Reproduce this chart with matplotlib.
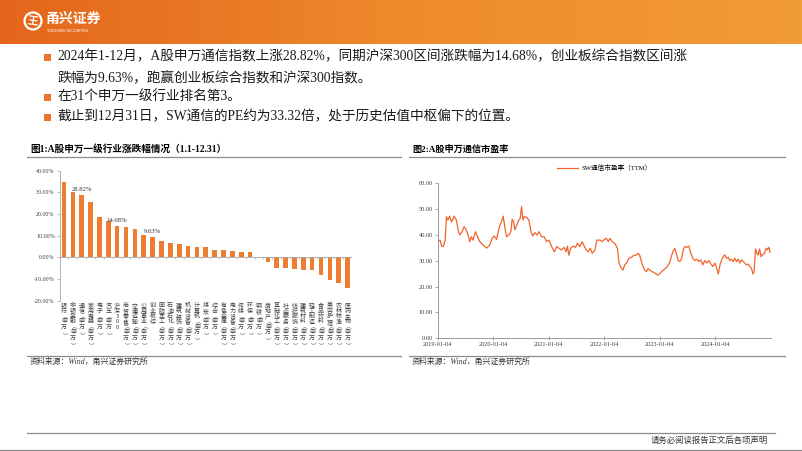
import numpy as np
import matplotlib.pyplot as plt
from matplotlib.colors import LinearSegmentedColormap
from matplotlib.patches import Circle, Rectangle
from matplotlib.ticker import FormatStrFormatter

plt.rcParams['font.family'] = ['Liberation Serif', 'Noto Sans CJK SC']

# ---- data ----
industries = ['银行(申万)', '非银金融(申万)', '通信(申万)', '家用电器(申万)', '电子(申万)',
              '汽车(申万)', '沪深300', '商贸零售(申万)', '交通运输(申万)', '公用事业(申万)',
              '创业板综', '国防军工(申万)', '石油石化(申万)', '建筑装饰(申万)', '机械设备(申万)',
              '计算机(申万)', '煤炭(申万)', '综合(申万)', '有色金属(申万)', '电力设备(申万)',
              '传媒(申万)', '环保(申万)', '钢铁(申万)', '房地产(申万)', '基础化工(申万)',
              '社会服务(申万)', '纺织服饰(申万)', '建筑材料(申万)', '轻工制造(申万)',
              '食品饮料(申万)', '美容护理(申万)', '农林牧渔(申万)', '医药生物(申万)']
changes = [34.7, 30.2, 28.82, 25.6, 18.7, 16.7, 14.68, 13.9, 13.3, 10.5, 9.63,
           7.4, 6.5, 6.0, 5.2, 4.6, 4.6, 3.5, 3.4, 3.1, 2.3, 2.3, 0.3,
           -2.2, -4.9, -4.9, -5.2, -5.9, -6.0, -8.0, -10.3, -11.6, -14.2]
labelled = {2: '28.82%', 6: '14.68%', 10: '9.63%'}

pe_dates = ['2019-01-04', '2019-01-20', '2019-01-30', '2019-02-10', '2019-02-22', '2019-03-03',
            '2019-03-13', '2019-03-24', '2019-04-05', '2019-04-22', '2019-05-07', '2019-05-18',
            '2019-05-29', '2019-06-14', '2019-06-27', '2019-07-08', '2019-07-23', '2019-08-03',
            '2019-08-14', '2019-08-25', '2019-09-10', '2019-09-23', '2019-10-08', '2019-10-30',
            '2019-11-21', '2019-12-13', '2019-12-28',
            '2020-01-11', '2020-01-27', '2020-02-11', '2020-02-28', '2020-03-10', '2020-03-21',
            '2020-04-01', '2020-04-16', '2020-04-30', '2020-05-08', '2020-05-17', '2020-05-26',
            '2020-06-08', '2020-06-21', '2020-06-30', '2020-07-09', '2020-07-18', '2020-07-26',
            '2020-08-11', '2020-08-26', '2020-09-09', '2020-09-20', '2020-10-05', '2020-10-18',
            '2020-11-01', '2020-11-18', '2020-12-05', '2020-12-21',
            '2021-01-06', '2021-01-23', '2021-02-10', '2021-02-26', '2021-03-11', '2021-03-28',
            '2021-04-15', '2021-04-28', '2021-05-07', '2021-05-16', '2021-05-29', '2021-06-14',
            '2021-06-29', '2021-07-12', '2021-07-27', '2021-08-12', '2021-08-25', '2021-09-08',
            '2021-09-21', '2021-10-04', '2021-10-17', '2021-11-04', '2021-11-17', '2021-12-07',
            '2021-12-22',
            '2022-01-05', '2022-01-18', '2022-01-31', '2022-02-11', '2022-02-26', '2022-03-14',
            '2022-04-01', '2022-04-12', '2022-04-27', '2022-05-08', '2022-05-19', '2022-05-30',
            '2022-06-14', '2022-07-02', '2022-07-19', '2022-08-04', '2022-08-15', '2022-08-26',
            '2022-09-06', '2022-09-17', '2022-09-28', '2022-10-09', '2022-10-20', '2022-10-31',
            '2022-11-16', '2022-12-03', '2022-12-21',
            '2023-01-04', '2023-01-17', '2023-02-04', '2023-02-19', '2023-03-02', '2023-03-13',
            '2023-03-24', '2023-04-04', '2023-04-14', '2023-04-25', '2023-05-06', '2023-05-17',
            '2023-05-28', '2023-06-10', '2023-06-19', '2023-07-02', '2023-07-15', '2023-07-28',
            '2023-08-10', '2023-08-23', '2023-09-05', '2023-09-19', '2023-10-02', '2023-10-15',
            '2023-10-28', '2023-11-10', '2023-11-23', '2023-12-07', '2023-12-20',
            '2024-01-04', '2024-01-14', '2024-01-25', '2024-02-05', '2024-02-16', '2024-02-27',
            '2024-03-08', '2024-03-19', '2024-03-30', '2024-04-10', '2024-04-21', '2024-05-02',
            '2024-05-13', '2024-05-24', '2024-06-04', '2024-06-15', '2024-06-26', '2024-07-07',
            '2024-07-18', '2024-07-28', '2024-08-08', '2024-08-19', '2024-08-30', '2024-09-10',
            '2024-09-17', '2024-09-26', '2024-10-08', '2024-10-14', '2024-10-23', '2024-11-01',
            '2024-11-10', '2024-11-23', '2024-12-06', '2024-12-14', '2024-12-23', '2024-12-31']
pe_values = [37.4, 38.0, 35.7, 35.5, 38.0, 47.1, 45.8, 47.3, 45.0, 47.3, 45.8, 42.0, 40.0,
             41.3, 43.2, 42.2, 40.0, 37.4, 39.3, 38.0, 41.3, 39.3, 37.4, 36.1, 34.9, 36.1, 38.7,
             39.6, 38.3, 42.6, 45.1, 47.3, 43.0, 39.3, 40.0, 41.3, 46.1, 45.1, 42.0, 43.9, 45.8,
             46.4, 51.0, 45.8, 47.1, 46.8, 45.8, 41.3, 39.6, 40.9, 40.0, 41.3, 39.3, 39.3, 37.4,
             38.0, 35.5, 33.5, 35.5, 34.9, 34.2, 35.2, 33.5, 35.7, 32.2, 34.9, 35.7, 35.2, 36.8,
             35.5, 37.4, 35.7, 34.2, 33.5, 34.9, 32.9, 34.2, 38.0, 38.0, 37.4,
             38.3, 38.7, 37.4, 38.7, 37.4, 36.8, 34.9, 29.1, 27.1, 26.4, 28.4, 29.0, 30.8, 31.4,
             32.1, 32.3, 32.9, 32.1, 29.7, 27.7, 26.4, 25.8, 27.0, 26.4, 25.8, 25.3, 24.4,
             25.0, 25.8, 26.7, 27.5, 28.4, 29.7, 32.1, 33.9, 34.8, 32.7, 30.1, 29.7, 30.8, 34.6,
             35.5, 35.2, 35.7, 32.9, 31.0, 30.1, 30.6, 29.7, 30.4, 28.4, 30.1, 29.1, 30.1, 28.8,
             27.8,
             29.1, 27.1, 24.9, 28.4, 30.4, 31.6, 32.3, 31.0, 31.4, 30.1, 30.6, 29.7, 31.0, 29.7,
             30.6, 29.1, 30.4, 29.7, 29.1, 28.4, 28.8, 27.8, 27.1, 24.9, 25.8, 34.6, 32.5, 32.3,
             34.6, 31.6, 32.3, 32.9, 34.9, 34.2, 35.2, 33.3]
pe_ticks = ['2019-01-04', '2020-01-04', '2021-01-04', '2022-01-04', '2023-01-04', '2024-01-04']

bullets = ['2024年1-12月，A股申万通信指数上涨28.82%，同期沪深300区间涨跌幅为14.68%，创业板综合指数区间涨',
           '跌幅为9.63%，跑赢创业板综合指数和沪深300指数。',
           '在31个申万一级行业排名第3。',
           '截止到12月31日，SW通信的PE约为33.32倍，处于历史估值中枢偏下的位置。']

W, H = 802, 451
fig = plt.figure(figsize=(W / 100, H / 100), dpi=100)


def px_rect(x0, y0, x1, y1):
    return [x0 / W, 1 - y1 / H, (x1 - x0) / W, (y1 - y0) / H]


bg = fig.add_axes([0, 0, 1, 1])
# header band
hdr = LinearSegmentedColormap.from_list('hdr', ['#E4661C', '#EE8A2C', '#F29C36'])
bg.imshow(np.linspace(0, 1, 256).reshape(1, -1), extent=(0, W, 44, 0), cmap=hdr, aspect='auto')
bg.set_xlim(0, W)
bg.set_ylim(H, 0)
bg.axis('off')
bg.add_patch(Circle((33, 21), 8.5, fill=False, ec='white', lw=1.6))
bg.text(33, 21.5, '王', color='white', fontsize=8, weight='bold', ha='center', va='center',
        family='Noto Sans CJK SC', rotation=-8)
bg.text(45, 19, '甬兴证券', color='white', fontsize=10, weight='bold', va='center',
        family='Noto Sans CJK SC')
bg.text(46, 31, 'YONGXING SECURITIES', color='white', fontsize=2.6, va='center',
        family='DejaVu Sans')

# bullets
for y, txt, mark in zip([57, 78, 97, 117], bullets, [True, False, True, True]):
    if mark:
        bg.add_patch(Rectangle((44, y - 3.5), 6.5, 7, color='#E9762B', lw=0))
    bg.text(57, y, txt, fontsize=9.85, va='center', color='#1a1a1a')

# panel titles and rules
bg.text(30, 149, '图1:A股申万一级行业涨跌幅情况（1.1-12.31）', fontsize=6.9, weight='bold', va='center')
bg.text(412, 149, '图2:A股申万通信市盈率', fontsize=6.6, weight='bold', va='center')
for x0, x1 in [(27, 401), (409, 785)]:
    bg.plot([x0, x1], [157, 157], color='#8C8C8C', lw=0.9)
    bg.plot([x0, x1], [355.5, 355.5], color='#8C8C8C', lw=0.9)
bg.text(30, 362, '资料来源：Wind，甬兴证券研究所', fontsize=5.7, style='italic', va='center', color='#333333')
bg.text(412, 362, '资料来源：Wind，甬兴证券研究所', fontsize=5.7, style='italic', va='center', color='#333333')

# footer
bg.plot([27, 775], [433, 433], color='#8C8C8C', lw=0.9)
bg.plot([0, W], [449.5, 449.5], color='#8C8C8C', lw=0.9)
bg.text(768, 441, '请务必阅读报告正文后各项声明', fontsize=6, ha='right', va='center', color='#333333')

# ---- left: industry bar chart ----
ax1 = fig.add_axes(px_rect(59.6, 170.7, 352, 300.7))
ax1.set_facecolor('none')
n = len(industries)
xs = np.arange(n)
ax1.bar(xs, changes, width=0.52, color='#ED7D31', zorder=2)
ax1.set_xlim(-0.5, n - 0.5)
ax1.set_ylim(-20, 40)
ax1.set_yticks(np.arange(-20, 41, 10))
ax1.yaxis.set_major_formatter(FormatStrFormatter('%.2f%%'))
ax1.set_xticks([])
for s in ['top', 'right', 'bottom']:
    ax1.spines[s].set_visible(False)
ax1.spines['left'].set_color('#A6A6A6')
ax1.spines['left'].set_linewidth(0.6)
ax1.tick_params(axis='y', labelsize=4.3, length=2, width=0.5, color='#A6A6A6', pad=1.5,
                labelcolor='#404040')
ax1.axhline(0, color='#A6A6A6', lw=0.6, zorder=3)
ax1.vlines(np.arange(n + 1) - 0.5, -0.9, 0, color='#A6A6A6', lw=0.5, zorder=3)
for i, lab in labelled.items():
    ax1.text(i, changes[i] + 1.2, lab, ha='center', va='bottom', fontsize=4.8, color='#333333')

# category names written top-to-bottom, one character at a time
step = 3.85  # points per character
for i, name in enumerate(industries):
    for j, ch in enumerate(name):
        rot = -90 if ch in '()' else 0
        ax1.annotate(ch, xy=(i, -20), xytext=(0, -1.8 - step * j - step / 2),
                     textcoords='offset points', ha='center', va='center', fontsize=4.3,
                     rotation=rot, color='#404040', annotation_clip=False,
                     family=['Noto Sans CJK SC'])

# ---- right: PE line ----
ax2 = fig.add_axes(px_rect(437.7, 183.3, 770.7, 338.3))
ax2.set_facecolor('none')
dates = np.array(pe_dates, dtype='datetime64[D]')
ax2.plot(dates, pe_values, color='#F0652C', lw=0.9, label='SW通信市盈率（TTM）')
ax2.set_xlim(np.datetime64('2019-01-04'), np.datetime64('2025-01-04'))
ax2.set_ylim(0, 60)
ax2.set_yticks(np.arange(0, 61, 10))
ax2.yaxis.set_major_formatter(FormatStrFormatter('%.2f'))
tick_dates = np.array(pe_ticks, dtype='datetime64[D]')
ax2.set_xticks(tick_dates)
ax2.set_xticklabels(pe_ticks)
for s in ['top', 'right']:
    ax2.spines[s].set_visible(False)
for s in ['left', 'bottom']:
    ax2.spines[s].set_color('#8C8C8C')
    ax2.spines[s].set_linewidth(0.6)
ax2.tick_params(labelsize=4.6, length=2, width=0.5, color='#8C8C8C', pad=1.5, labelcolor='#404040')
ax2.tick_params(axis='x', direction='inout', length=3)
ax2.legend(loc='lower center', bbox_to_anchor=(0.5, 1.04), frameon=False, fontsize=4.8,
           handlelength=3.2, handletextpad=0.4)

fig.savefig('out.png', dpi=100)
